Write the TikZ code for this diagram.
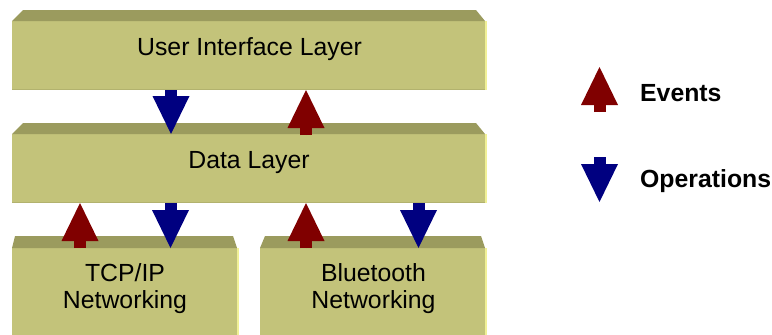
\documentclass[tikz,border=0pt]{standalone}
\usepackage{fontspec}
\setmainfont{Liberation Sans}
\usetikzlibrary{arrows.meta,calc}

\definecolor{slabfront}{HTML}{C3C37A}
\definecolor{slabtop}{HTML}{9B9B5E}
\definecolor{slabedge}{HTML}{F0F096}
\definecolor{slabfoot}{HTML}{B2B26E}
\definecolor{evcol}{HTML}{800000}
\definecolor{opcol}{HTML}{000080}

\tikzset{
  slab/.style={rectangle, fill=slabfront, inner sep=0pt, outer sep=0pt, anchor=north west},
  lbl/.style={font=\fontsize{24.8}{27}\selectfont, inner sep=0pt, anchor=base},
  legendlbl/.style={font=\fontsize{24.8}{27}\selectfont\bfseries, inner sep=0pt, anchor=base west},
  bigarrow/.style={line width=12pt, -{Triangle[width=37pt,length=38pt,line width=0pt]}},
  evarrow/.style={bigarrow, draw=evcol, fill=evcol},
  oparrow/.style={bigarrow, draw=opcol, fill=opcol},
}

\begin{document}
\begin{tikzpicture}[x=1pt,y=-1pt]
  \useasboundingbox (0,0) rectangle (772,335);
  \clip (0,0) rectangle (772,335);

  % front faces of the layers
  \node[slab, minimum width=473pt, minimum height=69pt] (ui)   at (12,21)  {};
  \node[slab, minimum width=473pt, minimum height=69pt] (data) at (12,134) {};
  \node[slab, minimum width=225pt, minimum height=95pt] (tcp)  at (12,248) {};
  \node[slab, minimum width=225pt, minimum height=95pt] (bt)   at (260,248) {};

  % bevelled top faces
  \fill[slabtop] (ui.north west) -- ++(11,-11) -- ($(ui.north east)+(-9,-11)$) -- (ui.north east) -- cycle;
  \fill[slabtop] (data.north west) -- ++(11,-11) -- ($(data.north east)+(-9,-11)$) -- (data.north east) -- cycle;
  \fill[slabtop] (tcp.north west) -- ++(3,-12) -- ($(tcp.north east)+(-4,-12)$) -- (tcp.north east) -- cycle;
  \fill[slabtop] (bt.north west) -- ++(5,-12) -- ($(bt.north east)+(-4,-12)$) -- (bt.north east) -- cycle;

  % light right-hand edges and shaded bottom edges
  \foreach \s in {ui,data,tcp,bt}{
    \fill[slabedge] (\s.north east) rectangle ($(\s.south east)+(2,0)$);
  }
  \foreach \s in {ui,data}{
    \fill[slabfoot] ($(\s.south west)+(0,-1.5)$) rectangle (\s.south east);
  }

  % layer names
  \node[lbl] (uitxt)   at (249.5,55)  {User Interface Layer};
  \node[lbl] (datatxt) at (249,168)   {Data Layer};
  \node[lbl] (tcptxtA) at (125,281.5) {TCP/IP};
  \node[lbl] (tcptxtB) at (125,308.5) {Networking};
  \node[lbl] (bttxtA)  at (373.5,281.5) {Bluetooth};
  \node[lbl] (bttxtB)  at (373.5,308.5) {Networking};

  % operations go down, events come up
  \draw[oparrow] (ui.south -| 171,0)    -- (data.north -| 171,0);
  \draw[evarrow] ($(data.north -| 306,0)+(0,1)$) -- (ui.south -| 306,0);
  \draw[evarrow] (tcp.north -| 80,0)    -- (data.south -| 80,0);
  \draw[oparrow] (data.south -| 170.5,0) -- (tcp.north -| 170.5,0);
  \draw[evarrow] (bt.north -| 306,0)    -- (data.south -| 306,0);
  \draw[oparrow] (data.south -| 418.5,0) -- (bt.north -| 418.5,0);

  % legend
  \coordinate (evtail) at (599.5,112);
  \coordinate (evhead) at (599.5,67);
  \coordinate (optail) at (599.5,157);
  \coordinate (ophead) at (599.5,202);
  \draw[evarrow] (evtail) -- (evhead);
  \draw[oparrow] (optail) -- (ophead);
  \node[legendlbl] (evtxt) at (640,101.5) {Events};
  \node[legendlbl] (optxt) at (640,187)   {Operations};
\end{tikzpicture}
\end{document}
